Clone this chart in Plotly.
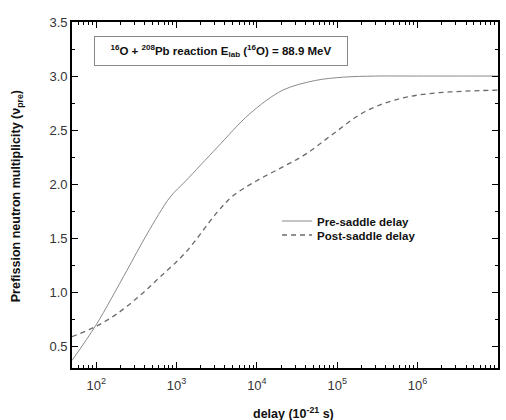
import numpy as np
import plotly.graph_objects as go

# -------------------------------------------------------------------
# DATA
# -------------------------------------------------------------------
pre_delay = [50, 100, 240, 430, 830, 1300, 3200, 8100, 21000, 54000, 120000,
             300000, 1e6, 1e7]
pre_nu = [0.37, 0.70, 1.20, 1.54, 1.88, 2.03, 2.34, 2.65, 2.87, 2.96, 2.99,
          3.0, 3.0, 3.0]

post_delay = [50, 100, 180, 350, 620, 1300, 3200, 5000, 9800, 21000, 41000,
              87000, 220000, 590000, 1.5e6, 3.9e6, 1e7]
post_nu = [0.59, 0.686, 0.80, 0.97, 1.14, 1.37, 1.74, 1.89, 2.03, 2.16, 2.28,
           2.46, 2.67, 2.79, 2.84, 2.86, 2.87]

x_tickvals = [1e2, 1e3, 1e4, 1e5, 1e6, 1e7]
x_ticktext = ["10<sup>2</sup>", "10<sup>3</sup>", "10<sup>4</sup>",
              "10<sup>5</sup>", "10<sup>6</sup>", "10<sup>7</sup>"]

FONT = "Liberation Sans, Arial, sans-serif"

# minor log ticks 2..9 per decade
minor_vals = [m * 10 ** e for e in range(1, 7) for m in range(2, 10)]
minor_vals = [v for v in minor_vals if 50 <= v <= 1e7]

# plot area in pixels (for placing paper-referenced text)
PL, PR, PT, PB = 72, 500, 22, 368
PW, PH = PR - PL, PB - PT

# -------------------------------------------------------------------
# FIGURE
# -------------------------------------------------------------------
fig = go.Figure()

fig.add_trace(go.Scatter(
    x=pre_delay, y=pre_nu, mode="lines",
    name="<b>Pre-saddle delay</b>", legend="legend",
    line=dict(color="#8a8a8a", width=1, shape="spline", smoothing=0.9),
))
fig.add_trace(go.Scatter(
    x=post_delay, y=post_nu, mode="lines",
    name="<b>Post-saddle delay</b>", legend="legend2",
    line=dict(color="#6a6a6a", width=1.3, dash="5px,4px", shape="spline", smoothing=1.0),
))

# title box
fig.add_annotation(
    x=(222 - PL) / PW, y=(PB - 51) / PH, xref="paper", yref="paper",
    xanchor="center", yanchor="middle",
    text="<b><sup>16</sup>O + <sup>208</sup>Pb reaction E<sub>lab</sub> (<sup>16</sup>O) = 88.9 MeV</b>",
    showarrow=False, font=dict(family=FONT, size=11.5, color="#111"),
    bordercolor="#888", borderwidth=1, borderpad=4,
    width=244, height=20, bgcolor="white",
)

# x axis title
fig.add_annotation(
    x=(295 - PL) / PW, y=-(413 - PB) / PH, xref="paper", yref="paper",
    xanchor="center", yanchor="middle",
    text="<b>delay (10<sup>-21</sup> s)</b>",
    showarrow=False, font=dict(family=FONT, size=12.5, color="#111"),
)

# y axis title
fig.add_annotation(
    x=(17 - PL) / PW, y=(PB - 196) / PH, xref="paper", yref="paper",
    xanchor="center", yanchor="middle", textangle=-90,
    text="<b>Prefission neutron multiplicity (ν<sub>pre</sub>)</b>",
    showarrow=False, font=dict(family=FONT, size=12.5, color="#111"),
)

legend_style = dict(
    xanchor="left", yanchor="middle",
    bgcolor="rgba(0,0,0,0)", borderwidth=0,
    font=dict(family=FONT, size=11.5, color="#111"),
    itemwidth=30,
)

fig.update_layout(
    width=506, height=420,
    margin=dict(l=PL, r=506 - PR, t=PT, b=420 - PB),
    plot_bgcolor="white", paper_bgcolor="white",
    font=dict(family=FONT, size=13, color="#222"),
    showlegend=True,
    legend=dict(x=(278 - PL) / PW, y=(PB - 221) / PH, **legend_style),
    legend2=dict(x=(278 - PL) / PW, y=(PB - 235) / PH, **legend_style),
    xaxis=dict(
        type="log", range=[np.log10(50), 7],
        tickmode="array", tickvals=x_tickvals, ticktext=x_ticktext,
        ticks="inside", ticklen=6, tickwidth=1.2, tickcolor="black",
        showline=True, linecolor="black", linewidth=1.8, mirror="ticks",
        showgrid=False, zeroline=False, ticklabelstandoff=4,
        minor=dict(tickmode="array", tickvals=minor_vals, ticks="inside",
                   ticklen=3, tickwidth=1, tickcolor="black", showgrid=False),
        tickfont=dict(size=13, color="#333"),
    ),
    yaxis=dict(
        range=[0.3, 3.5], tick0=0.5, dtick=0.5, tickformat=".1f",
        ticks="inside", ticklen=6, tickwidth=1.2, tickcolor="black",
        showline=True, linecolor="black", linewidth=1.8, mirror="ticks",
        showgrid=False, zeroline=False,
        minor=dict(dtick=0.25, ticks="inside", ticklen=3, tickwidth=1,
                   tickcolor="black", showgrid=False),
        tickfont=dict(size=13, color="#333"),
    ),
)

fig.write_html("out.html", config={"displayModeBar": False},
               post_script="document.body.style.margin='0';")
